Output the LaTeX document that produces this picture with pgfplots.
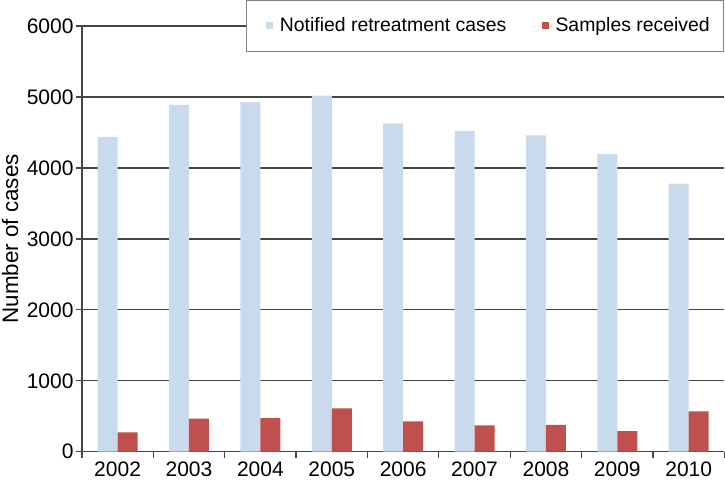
\documentclass[border=0pt]{standalone}
\usepackage{pgfplots}
\pgfplotsset{compat=1.18}
\usepackage{fontspec}
\setmainfont{Liberation Sans}
\definecolor{lblue}{RGB}{200,218,236}
\definecolor{dred}{RGB}{192,80,77}
\definecolor{gline}{RGB}{70,70,70}
\begin{document}
\begin{tikzpicture}
\begin{axis}[
  scale only axis,
  width=320bp, height=212bp,
  xmin=-0.5, xmax=8.5,
  ymin=0, ymax=6000,
  xtick={-0.5,0.5,1.5,2.5,3.5,4.5,5.5,6.5,7.5,8.5},
  x tick label as interval,
  xticklabels={2002,2003,2004,2005,2006,2007,2008,2009,2010},
  ytick={0,1000,2000,3000,4000,5000,6000},
  axis x line*=bottom,
  axis y line*=left,
  axis line style={gline, line width=0.6pt},
  tick align=outside,
  major tick length=3bp,
  tick style={gline, line width=0.6pt},
  ymajorgrids,
  grid style={gline, line width=0.6pt},
  /pgf/number format/assume math mode=true,
  /pgf/number format/1000 sep={},
  tick label style={font=\fontsize{10.5}{12}\selectfont},
  yticklabel style={inner xsep=1bp},
  xticklabel style={inner ysep=2bp},
  ylabel={Number of cases},
  every axis y label/.style={at={(axis description cs:0,0.5)}, xshift=-41bp, rotate=90, anchor=north, inner sep=1bp, font=\fontsize{11.2}{13}\selectfont},
  legend style={
    at={(1,1)}, anchor=north east, yshift=13bp,
    legend columns=2, draw=gray, line width=0.6pt, fill=white,
    font=\fontsize{9.7}{12}\selectfont,
    inner xsep=5bp, inner ysep=6.5bp,
    /tikz/every even column/.append style={column sep=11bp}
  },
  legend image code/.code={\fill[#1] (0bp,-1.2bp) rectangle (3.5bp,2.3bp); \path (-4.5bp,0bp) -- (5bp,0bp);},
]
\addplot[ybar, fill=lblue, draw=none, bar width=0.28, bar shift=-0.14]
  coordinates {(0,4440) (1,4890) (2,4930) (3,5020) (4,4630) (5,4520) (6,4460) (7,4200) (8,3780)};
\addlegendentry{Notified retreatment cases}
\addplot[ybar, fill=dred, draw=none, bar width=0.28, bar shift=0.14]
  coordinates {(0,272) (1,467) (2,475) (3,612) (4,429) (5,372) (6,377) (7,292) (8,570)};
\addlegendentry{Samples received}
\end{axis}
\end{tikzpicture}
\end{document}
